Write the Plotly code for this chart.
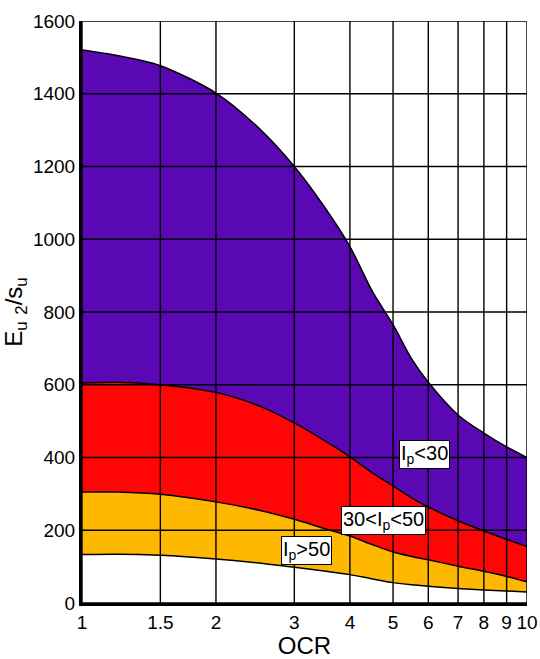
import math
import plotly.graph_objects as go

# OCR values (log axis) and the four boundary curves
ocr = [1, 1.2, 1.5, 2, 2.5, 3, 3.5, 4, 4.5, 5, 5.5, 6, 7, 8, 9, 10]
ip_lt_30 = [1520, 1505, 1477, 1402, 1305, 1200, 1090, 980, 855, 765, 672, 607, 517, 467, 429, 400]
ip_30_50 = [605, 607, 600, 579, 542, 495, 447, 402, 357, 322, 289, 264, 226, 198, 175, 155]
ip_gt_50 = [305, 305, 299, 278, 255, 230, 205, 184, 160, 140, 128, 119, 101, 87, 73, 58]
lower = [133, 134, 131, 121, 110, 98, 88, 78, 66, 56, 50, 46, 40, 36, 33, 30]

x_ticks = [1, 1.5, 2, 3, 4, 5, 6, 7, 8, 9, 10]
x_labels = ["1", "1.5", "2", "3", "4", "5", "6", "7", "8", "9", "10"]
y_ticks = [0, 200, 400, 600, 800, 1000, 1200, 1400, 1600]

labels = ["I<sub>p</sub>&lt;30", "30&lt;I<sub>p</sub>&lt;50", "I<sub>p</sub>&gt;50"]
label_x = [5.88, 4.77, 3.19]
label_y = [409, 227, 145]

fig = go.Figure()
bands = [
    (ip_lt_30, "#5a08b4"),
    (ip_30_50, "#ff0505"),
    (ip_gt_50, "#ffb800"),
    (lower, "white"),
]
for ys, col in bands:
    fig.add_trace(go.Scatter(
        x=ocr, y=ys, mode="lines", line=dict(color="black", width=1.5, shape="spline", smoothing=0.8),
        fill="tozeroy", fillcolor=col, hoverinfo="skip", showlegend=False,
    ))

# grid drawn on top of the coloured bands
for xv in x_ticks:
    fig.add_shape(type="line", xref="x", yref="y", x0=xv, x1=xv, y0=0, y1=1600,
                  line=dict(color="black", width=1.4), layer="above")
for yv in y_ticks:
    fig.add_shape(type="line", xref="x", yref="y", x0=1, x1=10, y0=yv, y1=yv,
                  line=dict(color="black", width=1.4), layer="above")

# annotations on a log axis take log10 positions
for t, xv, yv in zip(labels, label_x, label_y):
    fig.add_annotation(x=math.log10(xv), y=yv, xref="x", yref="y", text=t, showarrow=False,
                       font=dict(size=20, color="black", family="Liberation Sans, Arial, sans-serif"),
                       bgcolor="white", bordercolor="black", borderwidth=1, borderpad=1)

fig.update_layout(
    width=540, height=659,
    margin=dict(l=82, r=13, t=21, b=56),
    paper_bgcolor="white", plot_bgcolor="white",
    font=dict(family="Liberation Sans, Arial, sans-serif", color="black"),
    xaxis=dict(type="log", range=[0, 1], tickvals=x_ticks, ticktext=x_labels, automargin=False,
               showgrid=False, zeroline=False, showline=True, linecolor="black", linewidth=3,
               ticks="", tickfont=dict(size=19), title=dict(text="OCR", font=dict(size=24), standoff=4)),
    yaxis=dict(range=[0, 1600], tickvals=y_ticks, showgrid=False, zeroline=False, automargin=False,
               showline=True, linecolor="black", linewidth=3, ticks="", tickfont=dict(size=19),
               title=dict(text="E<sub>u</sub> <sub>2</sub>/s<sub>u</sub>", font=dict(size=24), standoff=6)),
)

# drop the browser's default 8px body margin so the figure sits at the window's corner
fig.write_html("out.html", config={"displayModeBar": False},
               post_script="document.body.style.margin='0';")
